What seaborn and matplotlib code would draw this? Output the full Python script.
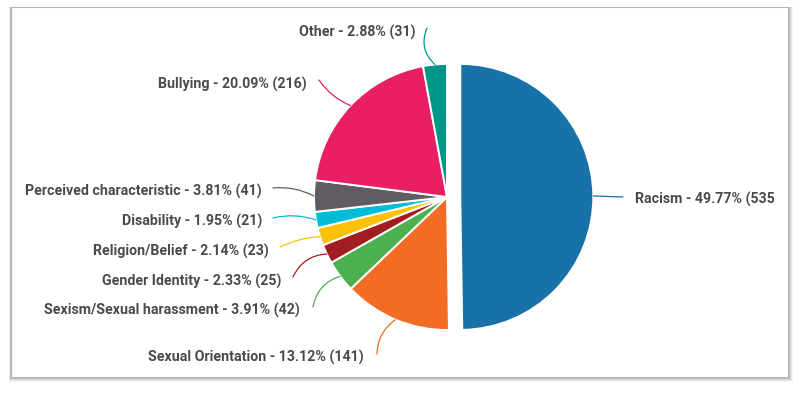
import numpy as np
import seaborn as sns
import matplotlib.pyplot as plt
from matplotlib.patches import Rectangle
from matplotlib.transforms import Bbox, TransformedBbox

# data, clockwise from 12 o'clock
categories = [
    "Racism",
    "Sexual Orientation",
    "Sexism/Sexual harassment",
    "Gender Identity",
    "Religion/Belief",
    "Disability",
    "Perceived characteristic",
    "Bullying",
    "Other",
]
counts = [535, 141, 42, 25, 23, 21, 41, 216, 31]
colors = ["#1872a8", "#f26c23", "#4caf50", "#a21d21", "#ffc107",
          "#00bcd4", "#615c63", "#e91e63", "#009688"]

# layout in pixels (origin top-left): pie centre, radius, label anchors
W, H = 800, 394
CX, CY, R = 447, 197, 133
# (line end x, line end y, text x, text y, ha, curve)
label_layout = [
    (623, 197, 635, 199, "left", 0.0),
    (377, 354, 364, 357, "right", -0.25),
    (313, 307, 300, 310, "right", -0.3),
    (293, 277, 281, 281, "right", -0.3),
    (280, 247, 269, 251, "right", -0.1),
    (273, 218, 262, 221, "right", -0.15),
    (273, 188, 262, 191, "right", -0.15),
    (319, 80, 307, 84, "right", 0.15),
    (427, 28, 415, 32, "right", 0.35),
]


def px(x, y):
    # pixel -> data units (pie radius = 1)
    return (x - CX) / R, (CY - y) / R


sns.set_theme(style="white")
plt.rcParams["font.family"] = ["Roboto", "DejaVu Sans"]

fig = plt.figure(figsize=(W / 100, H / 100), dpi=100)
fig.patch.set_facecolor("white")
ax = fig.add_axes([0, 0, 1, 1])

explode = [0.1] + [0] * (len(counts) - 1)
wedges, _ = ax.pie(counts, colors=colors, startangle=90, counterclock=False,
                   explode=explode, radius=1,
                   wedgeprops=dict(edgecolor="white", linewidth=1.4))
for w in wedges:
    w.set_zorder(2)

ax.set_aspect("auto")
ax.set_xlim(-CX / R, (W - CX) / R)
ax.set_ylim((CY - H) / R, CY / R)
ax.axis("off")

# framed panel with soft shadow (stronger at bottom / right)
x0, y0 = px(11, 377)
x1, y1 = px(788, 7)
for i, a in enumerate([0.06, 0.10, 0.16, 0.24, 0.32]):
    off = (5 - i) / R
    ax.add_patch(Rectangle((x0 - off * 0.5, y0 - off * 1.1),
                           (x1 - x0) + off * 1.4, (y1 - y0) + off * 1.2,
                           facecolor="#707070", edgecolor="none", alpha=a,
                           zorder=0))
ax.add_patch(Rectangle((x0, y0), x1 - x0, y1 - y0, facecolor="white",
                       edgecolor="#b5b5b5", linewidth=0.8, zorder=1))

total = sum(counts)
clip = TransformedBbox(Bbox([px(0, H), px(774, 0)]), ax.transData)
for w, name, c, col, lay in zip(wedges, categories, counts, colors, label_layout):
    lx, ly, tx, ty, ha, rad = lay
    mid = np.deg2rad((w.theta1 + w.theta2) / 2)
    cx, cy = w.center
    start = (cx + np.cos(mid), cy + np.sin(mid))
    ax.annotate("", xy=start, xytext=px(lx, ly),
                arrowprops=dict(arrowstyle="-", color=col, lw=0.9,
                                shrinkA=0, shrinkB=0,
                                connectionstyle=f"arc3,rad={rad}"),
                zorder=3)
    t = ax.text(*px(tx, ty), f"{name} - {c / total * 100:.2f}% ({c})",
                ha=ha, va="center", fontsize=10.2, fontweight="bold",
                color="#4a4a4a", zorder=4)
    t.set_clip_box(clip)
    t.set_clip_on(True)

plt.savefig("out.png", dpi=100, facecolor="white")
